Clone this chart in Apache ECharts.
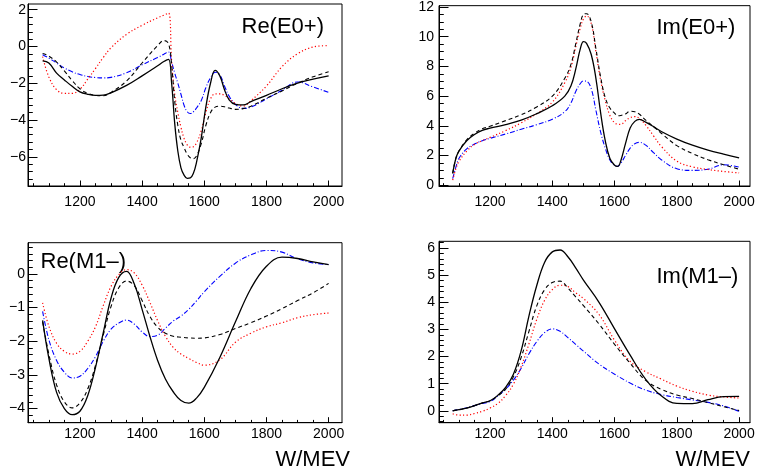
<!DOCTYPE html>
<html><head><meta charset="utf-8">
<script src="https://cdn.jsdelivr.net/npm/echarts@6/dist/echarts.min.js"></script>
<style>html,body{margin:0;padding:0;background:#fff}#c{width:758px;height:475px}</style>
</head><body><div id="c"></div>
<script>
// ---------- DATA ----------
// Re(E0+)
const wReE0 = [1080,1100,1125,1150,1175,1200,1225,1250,1275,1300,1350,1400,1450,1470,1485,1495,1505,1515,1525,1535,1545,1555,1565,1575,1590,1605,1620,1635,1650,1665,1680,1700,1725,1750,1800,1850,1900,1950,2000];
const reE0Solid   = [-0.78,-0.9,-1.45,-1.82,-2.17,-2.47,-2.6,-2.66,-2.65,-2.52,-2.12,-1.6,-1.05,-0.82,-0.7,-2.0,-4.2,-5.7,-6.6,-7.0,-7.17,-7.15,-6.9,-6.3,-5.0,-3.3,-2.0,-1.3,-1.6,-2.35,-2.9,-3.15,-3.18,-3.0,-2.66,-2.3,-2.0,-1.78,-1.6];
const reE0Dashed  = [-0.38,-0.52,-0.85,-1.33,-1.85,-2.3,-2.55,-2.66,-2.68,-2.5,-1.88,-0.9,0.05,0.32,0.15,-1.0,-3.0,-4.3,-5.1,-5.5,-5.85,-6.05,-6.1,-5.95,-5.3,-4.3,-3.6,-3.3,-3.25,-3.28,-3.35,-3.42,-3.38,-3.25,-2.82,-2.42,-2.0,-1.65,-1.38];
const reE0Dotted  = [-0.55,-1.66,-2.35,-2.55,-2.55,-2.33,-1.78,-1.2,-0.6,-0.07,0.66,1.15,1.56,1.7,1.82,-0.8,-2.6,-3.6,-4.4,-5.0,-5.35,-5.48,-5.45,-5.25,-4.6,-3.6,-2.85,-2.58,-2.58,-2.66,-2.85,-3.1,-3.24,-2.95,-2.15,-1.1,-0.4,-0.03,0.05];
const reE0DashDot = [-0.45,-0.63,-0.9,-1.17,-1.38,-1.53,-1.63,-1.69,-1.71,-1.68,-1.43,-1.0,-0.6,-0.42,-0.3,-0.85,-1.45,-2.0,-2.6,-3.2,-3.55,-3.65,-3.55,-3.35,-2.95,-2.25,-1.7,-1.4,-1.55,-2.15,-2.7,-3.15,-3.37,-3.3,-2.85,-2.38,-1.93,-2.2,-2.5];

// Im(E0+)
const wImE0 = [1080,1090,1100,1125,1150,1175,1200,1250,1300,1350,1400,1440,1460,1475,1490,1500,1510,1525,1540,1555,1570,1585,1600,1610,1620,1635,1650,1665,1680,1700,1725,1750,1800,1850,1900,1950,2000];
const imE0Solid   = [0.8,1.8,2.3,3.0,3.42,3.7,3.84,4.08,4.38,4.82,5.35,6.0,6.7,7.8,9.2,9.67,9.55,8.8,7.2,4.9,3.0,1.8,1.35,1.27,1.65,2.8,3.85,4.3,4.44,4.25,3.95,3.62,3.11,2.7,2.37,2.1,1.85];
const imE0Dashed  = [0.8,1.8,2.3,3.05,3.5,3.8,3.97,4.35,4.75,5.27,6.0,7.2,8.15,9.5,10.9,11.5,11.55,11.0,9.2,7.3,5.9,5.2,4.85,4.68,4.7,4.8,4.98,4.95,4.78,4.38,3.95,3.5,2.67,2.14,1.72,1.38,1.08];
const imE0Dotted  = [0.35,1.1,1.6,2.3,2.75,3.0,3.22,3.68,4.2,4.82,5.6,6.9,7.95,9.3,10.6,11.2,11.4,10.9,9.0,7.1,5.7,4.7,4.2,4.12,4.1,4.35,4.55,4.62,4.5,4.05,3.33,2.62,1.62,1.24,1.06,0.93,0.83];
const imE0DashDot = [0.45,1.2,1.8,2.45,2.77,3.0,3.16,3.45,3.77,4.08,4.45,4.95,5.55,6.3,6.85,7.02,7.0,6.5,5.05,3.6,2.5,1.7,1.33,1.28,1.48,2.0,2.5,2.8,2.89,2.7,2.2,1.72,1.11,1.0,1.08,1.38,1.22];

// Re(M1-)
const wReM1 = [1080,1100,1125,1150,1175,1200,1225,1250,1275,1300,1325,1350,1375,1400,1425,1450,1475,1500,1525,1550,1575,1600,1650,1700,1750,1800,1850,1900,1950,2000];
const reM1Solid   = [-1.38,-2.5,-3.52,-4.0,-4.18,-4.08,-3.62,-2.78,-1.75,-0.72,-0.1,0.08,-0.3,-1.05,-1.85,-2.57,-3.12,-3.5,-3.76,-3.84,-3.69,-3.37,-2.48,-1.43,-0.43,0.23,0.5,0.46,0.36,0.28];
const reM1Dashed  = [-1.42,-2.38,-3.3,-3.8,-3.98,-3.83,-3.42,-2.72,-1.82,-0.97,-0.41,-0.21,-0.35,-0.79,-1.26,-1.58,-1.76,-1.85,-1.88,-1.9,-1.91,-1.9,-1.8,-1.62,-1.45,-1.25,-1.03,-0.79,-0.56,-0.28];
const reM1Dotted  = [-0.86,-1.55,-2.06,-2.3,-2.38,-2.3,-2.0,-1.57,-0.94,-0.37,-0.02,0.13,0.03,-0.33,-0.84,-1.39,-1.85,-2.18,-2.38,-2.51,-2.63,-2.71,-2.55,-2.03,-1.76,-1.57,-1.45,-1.3,-1.21,-1.16];
const reM1DashDot = [-1.11,-1.95,-2.57,-2.92,-3.09,-3.04,-2.81,-2.46,-2.0,-1.64,-1.46,-1.37,-1.49,-1.72,-1.86,-1.82,-1.61,-1.4,-1.25,-1.05,-0.8,-0.53,-0.07,0.32,0.57,0.7,0.65,0.45,0.33,0.28];

// Im(M1-)
const wImM1 = [1080,1100,1125,1150,1175,1200,1225,1250,1275,1300,1325,1350,1375,1400,1425,1450,1475,1500,1550,1600,1650,1700,1750,1800,1850,1900,1950,2000];
const imM1Solid   = [0,0.04,0.1,0.19,0.29,0.37,0.57,0.86,1.35,2.22,3.5,4.62,5.47,5.86,5.93,5.68,5.27,4.82,4.0,3.02,2.05,1.16,0.55,0.27,0.26,0.41,0.52,0.53];
const imM1Dashed  = [0,0.04,0.1,0.19,0.29,0.37,0.55,0.8,1.25,1.97,2.93,3.87,4.46,4.73,4.78,4.53,4.2,3.88,3.2,2.45,1.75,1.12,0.79,0.58,0.45,0.3,0.15,0.01];
const imM1Dotted  = [-0.11,-0.16,-0.16,-0.1,-0.02,0.1,0.27,0.56,0.98,1.63,2.47,3.37,4.07,4.47,4.63,4.58,4.35,4.14,3.55,2.6,1.82,1.44,1.17,0.91,0.72,0.58,0.51,0.47];
const imM1DashDot = [0,0.05,0.11,0.19,0.27,0.34,0.55,0.8,1.13,1.57,2.1,2.55,2.88,3.02,2.93,2.7,2.45,2.2,1.72,1.35,1.02,0.76,0.6,0.49,0.4,0.31,0.18,-0.02];

// tick labels
const xTickLabels = [1200,1400,1600,1800,2000];
const yTicksReE0 = [-6,-4,-2,0,2];
const yTicksImE0 = [0,2,4,6,8,10,12];
const yTicksReM1 = [-4,-3,-2,-1,0];
const yTicksImM1 = [0,1,2,3,4,5,6];
const panelTitles = ['Re(E0+)','Im(E0+)','Re(M1\u2013)','Im(M1\u2013)'];
const xAxisTitle = 'W/MEV';

// ---------- LAYOUT / STYLE ----------
const FONT = '"Liberation Sans", Arial, Helvetica, sans-serif';
const styles = [
  {color:'#000000', width:1.3, type:'solid'},
  {color:'#000000', width:1.1, type:[4,3]},
  {color:'#ff0000', width:1.2, type:[1.2,2.3]},
  {color:'#0000ff', width:1.1, type:[5,2,1,2]}
];
const panels = [
  {grid:{left:28,top:4,width:314,height:182}, xr:[1033,2043], yr:[-7.59,2.31], yMaj:yTicksReE0, yMin:0.4, w:wReE0, ys:[reE0Solid,reE0Dashed,reE0Dotted,reE0DashDot], xm:9, ym:2},
  {grid:{left:439,top:5,width:311,height:181}, xr:[1036,2035], yr:[-0.05,12.09], yMaj:yTicksImE0, yMin:0.5, w:wImE0, ys:[imE0Solid,imE0Dashed,imE0Dotted,imE0DashDot], xm:9, ym:5},
  {grid:{left:28,top:242.7,width:314,height:180}, xr:[1033,2043], yr:[-4.42,0.93], yMaj:yTicksReM1, yMin:0.2, w:wReM1, ys:[reM1Solid,reM1Dashed,reM1Dotted,reM1DashDot], xm:4, ym:3},
  {grid:{left:439,top:241.3,width:311,height:181.4}, xr:[1036,2035], yr:[-0.44,6.25], yMaj:yTicksImM1, yMin:0.2, w:wImM1, ys:[imM1Solid,imM1Dashed,imM1Dotted,imM1DashDot], xm:4, ym:4}
];

function minorVals(lo, hi, step){
  const out=[]; const k0=Math.ceil(lo/step-1e-9), k1=Math.floor(hi/step+1e-9);
  for(let k=k0;k<=k1;k++) out.push(Math.round(k*step*1000)/1000);
  return out;
}
const fmt = v => (v<0 ? '\u2212'+Math.abs(v) : String(v));

const grids=[], xAxes=[], yAxes=[], series=[];
panels.forEach((p,g)=>{
  grids.push(Object.assign({show:true, borderColor:'#000', borderWidth:1, backgroundColor:'transparent', containLabel:false}, p.grid));
  const lineS = {show:true, onZero:false, lineStyle:{color:'#000', width:1}};
  const noLine = {show:false, onZero:false};
  xAxes.push({type:'value', gridIndex:g, min:p.xr[0], max:p.xr[1], position:'bottom',
    axisLine:lineS, splitLine:{show:false},
    axisTick:{show:true, inside:true, length:5.5, customValues:xTickLabels, lineStyle:{color:'#000', width:1}},
    axisLabel:{show:true, customValues:xTickLabels, margin:p.xm, fontSize:14, fontFamily:FONT, color:'#000', formatter:fmt}});
  xAxes.push({type:'value', gridIndex:g, min:p.xr[0], max:p.xr[1], position:'bottom',
    axisLine:noLine, splitLine:{show:false}, axisLabel:{show:false},
    axisTick:{show:true, inside:true, length:2.8, customValues:minorVals(p.xr[0],p.xr[1],50), lineStyle:{color:'#000', width:1}}});
  yAxes.push({type:'value', gridIndex:g, min:p.yr[0], max:p.yr[1], position:'left',
    axisLine:lineS, splitLine:{show:false},
    axisTick:{show:true, inside:true, length:9.5, customValues:p.yMaj, lineStyle:{color:'#000', width:1}},
    axisLabel:{show:true, customValues:p.yMaj, margin:p.ym, fontSize:14, fontFamily:FONT, color:'#000', formatter:fmt}});
  yAxes.push({type:'value', gridIndex:g, min:p.yr[0], max:p.yr[1], position:'left',
    axisLine:noLine, splitLine:{show:false}, axisLabel:{show:false},
    axisTick:{show:true, inside:true, length:4.8, customValues:minorVals(p.yr[0],p.yr[1],p.yMin), lineStyle:{color:'#000', width:1}}});
  p.ys.forEach((arr,i)=>{
    series.push({type:'line', xAxisIndex:2*g, yAxisIndex:2*g, data:p.w.map((w,j)=>[w,arr[j]]),
      showSymbol:false, symbol:'none', smooth:0.4, clip:true, silent:true,
      lineStyle:styles[i], z:10-i});
  });
});

const tf = '22px '+FONT;
const graphic = [
  {type:'text', x:241.5, y:27, style:{text:panelTitles[0], font:tf, fill:'#000', align:'left', verticalAlign:'middle'}},
  {type:'text', x:656.5, y:28, style:{text:panelTitles[1], font:tf, fill:'#000', align:'left', verticalAlign:'middle'}},
  {type:'text', x:40.5, y:262, style:{text:panelTitles[2], font:tf, fill:'#000', align:'left', verticalAlign:'middle'}},
  {type:'text', x:656.5, y:277, style:{text:panelTitles[3], font:tf, fill:'#000', align:'left', verticalAlign:'middle'}},
  {type:'text', x:350, y:460, style:{text:xAxisTitle, font:tf, fill:'#000', align:'right', verticalAlign:'middle'}},
  {type:'text', x:750, y:460, style:{text:xAxisTitle, font:tf, fill:'#000', align:'right', verticalAlign:'middle'}}
];

const chart = echarts.init(document.getElementById('c'), null, {renderer:'canvas'});
chart.setOption({animation:false, backgroundColor:'#fff', grid:grids, xAxis:xAxes, yAxis:yAxes, series:series, graphic:graphic});
</script></body></html>
